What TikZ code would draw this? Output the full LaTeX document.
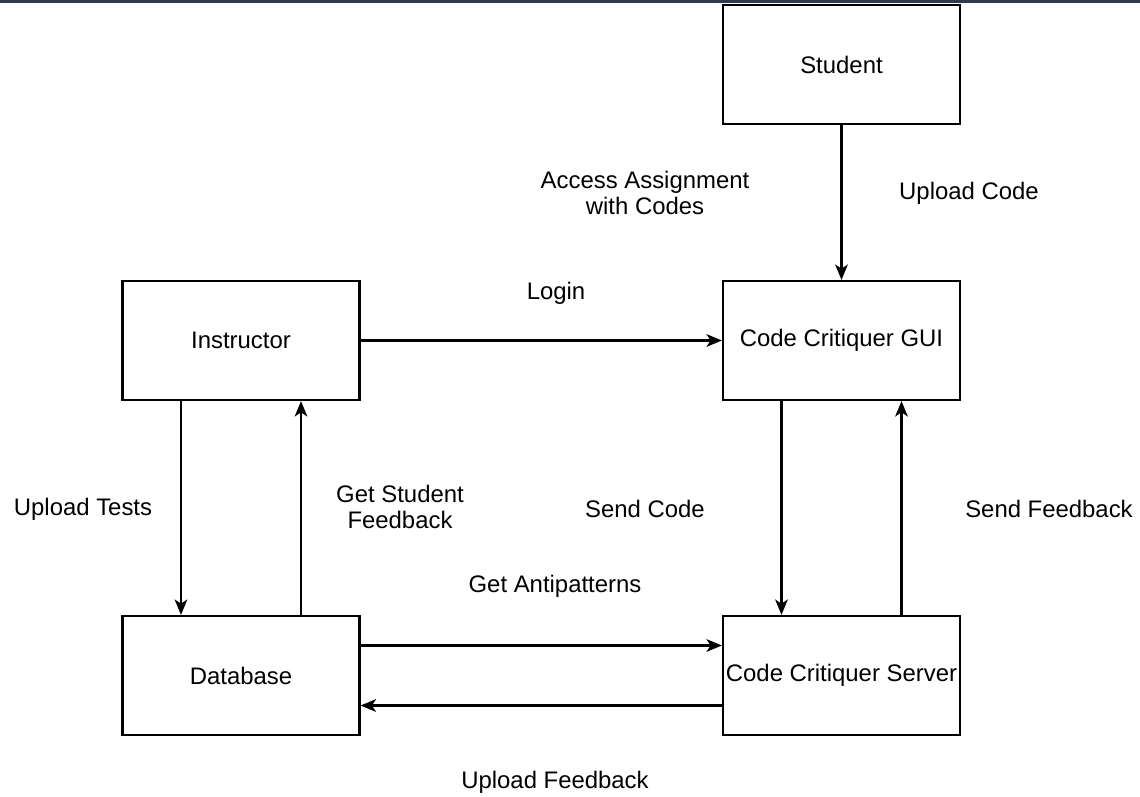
\documentclass[tikz,border=0pt]{standalone}
\usepackage{fontspec}
\setmainfont{Liberation Sans}
\usepackage{xcolor}
\usetikzlibrary{arrows.meta, math}
\definecolor{topbar}{RGB}{46,58,78}

\tikzset{
  block/.style={draw, line width=1.5pt, minimum width=5.925cm, minimum height=2.975cm,
    inner xsep=0pt, font=\fontsize{17}{19}\selectfont},
  conn/.style={line width=1.5pt, -{Stealth[length=11pt, width=9pt, inset=3pt]}},
  lbl/.style={font=\fontsize{17}{19}\selectfont, align=center}
}

\begin{document}
\begin{tikzpicture}[x=0.025cm, y=-0.025cm]
\tikzmath{
\dx=1.5;
\dy=0.75;
}
\useasboundingbox (0,0) rectangle (1140,797);
\fill[topbar] (0,0) rectangle (1140,3);

% boxes
\node[block] (student) at (841.5,64.5) {Student};
\node[block] (gui) at (841.5,340.5) {Code Critiquer GUI};
\node[block] (inst) at (241,340.5) {Instructor};
\node[block] (db) at (241,675.5) {Database};
\node[block] (server) at (841.5,675.5) {Code Critiquer Server};

% connectors
\draw[conn] (student) -- (gui);
\draw[conn] (inst) -- (gui);
\draw[conn] ([xshift=-\dx cm]inst.south) -- ([xshift=-\dx cm]db.north);
\draw[conn] ([xshift=\dx cm]db.north) -- ([xshift=\dx cm]inst.south);
\draw[conn] ([xshift=-\dx cm]gui.south) -- ([xshift=-\dx cm]server.north);
\draw[conn] ([xshift=\dx cm]server.north) -- ([xshift=\dx cm]gui.south);
\draw[conn] ([yshift=\dy cm]db.east) -- ([yshift=\dy cm]server.west);
\draw[conn] ([yshift=-\dy cm]server.west) -- ([yshift=-\dy cm]db.east);

% labels
\node[lbl] (access) at (645,193) {Access Assignment\\with Codes};
\node[lbl] (upcode) at (969,193) {Upload Code};
\node[lbl] (login) at (556,293) {Login};
\node[lbl] (uptests) at (83,509) {Upload Tests};
\node[lbl] (getfb) at (400,507) {Get Student\\Feedback};
\node[lbl] (sendcode) at (645,509) {Send Code};
\node[lbl] (sendfb) at (1049,509) {Send Feedback};
\node[lbl] (anti) at (555,586) {Get Antipatterns};
\node[lbl] (upfb) at (555,782) {Upload Feedback};
\end{tikzpicture}
\end{document}
